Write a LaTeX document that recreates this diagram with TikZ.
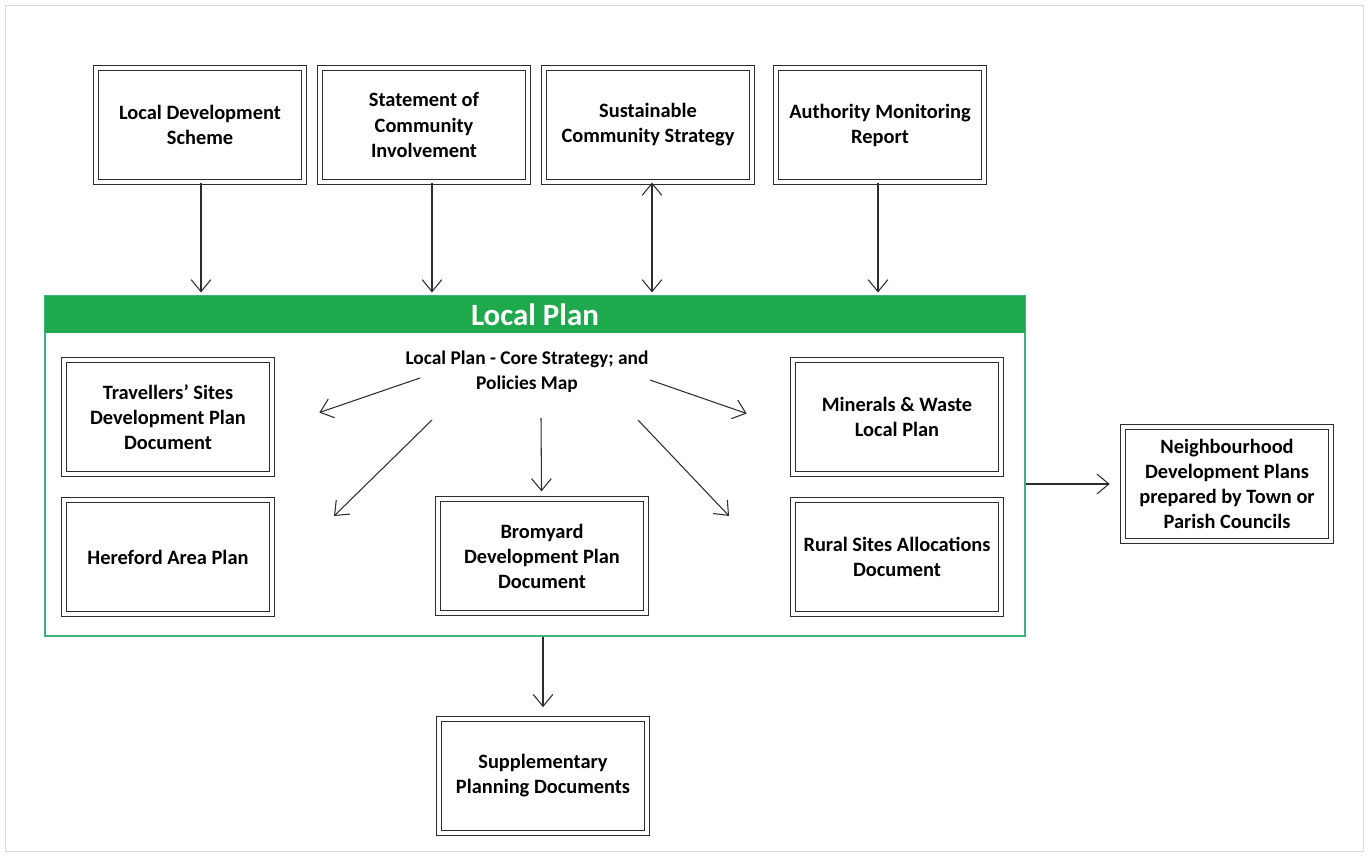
\documentclass[tikz,border=0pt]{standalone}
\usepackage{fontspec}
\setmainfont{Carlito}
\usetikzlibrary{arrows.meta,positioning}
\definecolor{lpgreen}{RGB}{30,170,76}
\definecolor{lpedge}{RGB}{58,180,125}
\definecolor{boxline}{RGB}{45,45,45}
\tikzset{>={Straight Barb[length=8.5pt,width=14pt]},shorten >=1pt}
\tikzset{
    docbox/.style={draw=boxline,double,double distance=2.8pt,line width=0.8pt,
        minimum width=5.2cm,minimum height=2.85cm,align=center,
        font=\bfseries\fontsize{14.5}{17.8}\selectfont},
    planframe/.style={draw=lpedge,line width=1pt,minimum width=24.5cm,minimum height=8.5cm},
    planhead/.style={fill=lpgreen,text=white,minimum width=24.5cm,minimum height=0.925cm,
        inner sep=0pt,font=\bfseries\fontsize{22}{25}\selectfont},
    plantext/.style={align=center,font=\bfseries\fontsize{13.8}{17.8}\selectfont}
}

\begin{document}
\begin{tikzpicture}[x=0.025cm,y=-0.025cm,line width=0.75pt,draw=boxline]
    \useasboundingbox (0,0) rectangle (1368,856);
    \draw[gray!30,line width=0.5pt] (5,5) rectangle (1363,851);
    \node[docbox] (lds) at (200,125) {Local Development\\Scheme};
    \node[docbox] (sci) at (424,125) {Statement of\\Community\\Involvement};
    \node[docbox] (scs) at (648,125) {Sustainable\\Community Strategy};
    \node[docbox] (amr) at (880,125) {Authority Monitoring\\Report};
    \node[planframe] (lp) at (535,466) {};
    \node[planhead,anchor=north] (lphead) at (lp.north) {Local Plan};
    \node[plantext] (core) at (527,372) {Local Plan - Core Strategy; and\\Policies Map};
    \node[docbox] (trav) at (168,417) {Travellers’ Sites\\Development Plan\\Document};
    \node[docbox] (her) at (168,557) {Hereford Area Plan};
    \node[docbox] (brom) at (542,556) {Bromyard\\Development Plan\\Document};
    \node[docbox] (mwlp) at (897,417) {Minerals \& Waste\\Local Plan};
    \node[docbox] (rsad) at (897,557) {Rural Sites Allocations\\Document};
    \node[docbox] (ndp) at (1227,484) {Neighbourhood\\Development Plans\\prepared by Town or\\Parish Councils};
    \node[docbox] (spd) at (543,776) {Supplementary\\Planning Documents};
    \coordinate (ctrav) at (420,378);
    \coordinate (cher) at (432,420);
    \coordinate (cbrom) at (541,418);
    \coordinate (cmin) at (650,380);
    \coordinate (crur) at (638,420);
    \coordinate (ttrav) at (318,413);
    \coordinate (ther) at (333,517);
    \coordinate (tmin) at (748,414);
    \coordinate (trur) at (730,517);
    \coordinate (lds0) at ([xshift=0.025cm]lds.south);
    \coordinate (sci0) at ([xshift=0.2cm]sci.south);
    \coordinate (scs0) at ([xshift=0.1cm]scs.south);
    \coordinate (amr0) at ([xshift=-0.05cm]amr.south);
    \path[->]
        (lds0) edge[shorten >=2pt] (lds0 |- lp.north)
        (sci0) edge[shorten >=2pt] (sci0 |- lp.north)
        (scs0) edge[<->,shorten >=2pt] (scs0 |- lp.north)
        (amr0) edge[shorten >=2pt] (amr0 |- lp.north)
        (ctrav) edge (ttrav)
        (cher) edge (ther)
        (cbrom) edge[shorten >=5pt] (brom)
        (cmin) edge (tmin)
        (crur) edge (trur)
        (lp.east |- ndp) edge[shorten >=9pt] (ndp)
        (spd |- lp.south) edge[shorten >=8pt] (spd)
    ;
\end{tikzpicture}
\end{document}
